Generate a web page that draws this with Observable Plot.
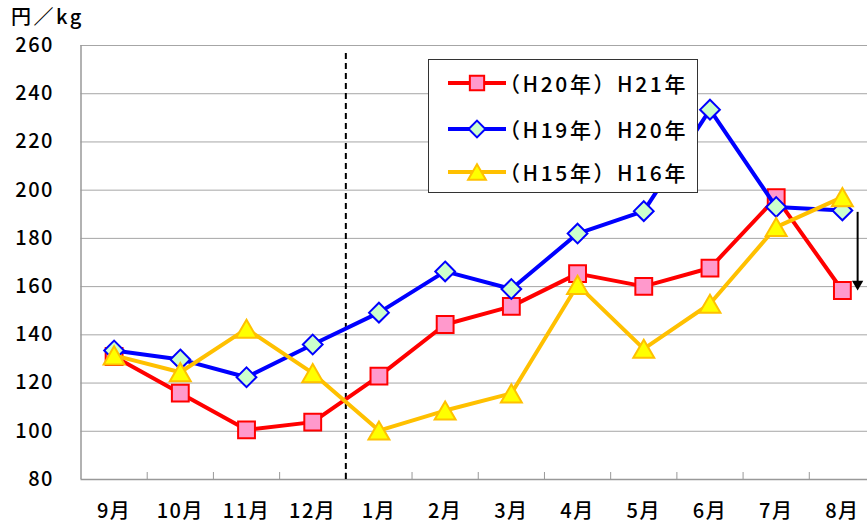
<!DOCTYPE html>
<html>
<head>
<meta charset="utf-8">
<script src="https://cdn.jsdelivr.net/npm/d3@7"></script>
<script src="https://cdn.jsdelivr.net/npm/@observablehq/plot@0.6"></script>
<style>
  html, body { margin: 0; padding: 0; background: #fff; }
  #wrap { position: relative; width: 867px; height: 528px; overflow: hidden;
          font-family: "Noto Sans CJK JP", "Noto Sans", sans-serif; }
  #wrap svg text { letter-spacing: 1.5px; font-weight: 500; }
  #unit { position: absolute; left: 11px; top: 1px; font-size: 20px; color: #000; letter-spacing: 2.5px; font-weight: 500; }
  #legend { position: absolute; left: 428px; top: 59px; width: 268px; height: 132px;
            border: 1px solid #333; background: #fff; }
  .row { position: absolute; left: 0; height: 30px; display: flex; align-items: center; white-space: nowrap; }
  .row svg { display: block; }
  .row span { font-size: 21px; letter-spacing: 2.6px; margin-left: -8px; color: #000; font-weight: 500; }
</style>
</head>
<body>
<div id="wrap">
  <div id="chart"></div>
  <div id="unit">円／kg</div>
  <div id="legend"></div>
</div>
<script>
const months = ["9月","10月","11月","12月","1月","2月","3月","4月","5月","6月","7月","8月"];
const seriesNames = ["（H20年）H21年", "（H19年）H20年", "（H15年）H16年"];
const h21 = [131, 115.8, 100.6, 103.8, 122.9, 144.3, 151.8, 165.4, 160.1, 167.7, 196.9, 158.4];
const h20 = [133.5, 129.8, 122.4, 136, 149.2, 166.3, 159, 182, 191.3, 233.4, 193, 191.6];
const h16 = [131.5, 124.5, 142.5, 124.1, 100.3, 108.6, 115.7, 160.7, 134.2, 152.9, 184.7, 197.1];
const yTicks = [80, 100, 120, 140, 160, 180, 200, 220, 240, 260];
const gridTicks = [100, 120, 140, 160, 180, 200, 220, 240, 260];
const boundaries = d3.range(0.5, 11, 1);
const dividerX = [3.5];
const arrowData = [{x: 11.23, y1: 190.8, y2: 158.4}];

const styles = [
  {stroke: "#ff0000", fill: "#ff99cc", symbol: "square", r: 9.5},
  {stroke: "#0000ff", fill: "#ccffcc", symbol: "diamond2", r: 8.9},
  {stroke: "#ffc000", fill: "#ffff00", symbol: "triangle2", r: 10, dy: 3}
];
const allSeries = [h21, h20, h16];
const tables = allSeries.map(vals => vals.map((v, i) => ({i, v})));

const marks = [
  Plot.ruleY(gridTicks, {stroke: "#a6a6a6", strokeWidth: 1}),
  Plot.ruleX([-0.5], {y1: 80, y2: 260, stroke: "#999", strokeWidth: 1.5}),
  Plot.ruleY([80], {stroke: "#999", strokeWidth: 1.5}),
  Plot.ruleX(boundaries, {y1: 80, y2: 82.9, stroke: "#999", strokeWidth: 1}),
  Plot.axisX(d3.range(12), {tickSize: 0, tickPadding: 24, tickFormat: i => months[i], fontSize: 20, fill: "#000"}),
  Plot.axisY(yTicks, {tickSize: 0, tickPadding: 27, fontSize: 20, fill: "#000"}),
  Plot.ruleX(dividerX, {y1: 80, y2: 258, stroke: "#000", strokeWidth: 2, strokeDasharray: "6,4"})
];
tables.forEach((t, k) => {
  const s = styles[k];
  marks.push(Plot.line(t, {x: "i", y: "v", stroke: s.stroke, strokeWidth: 4, strokeLinejoin: "round"}));
  marks.push(Plot.dot(t, {x: "i", y: "v", symbol: s.symbol, r: s.r, fill: s.fill, stroke: s.stroke, strokeWidth: 2, dy: s.dy || 0}));
});
marks.push(Plot.ruleX(arrowData, {x: "x", y1: "y1", y2: "y2", stroke: "#000", strokeWidth: 2, insetBottom: 6}));
marks.push(Plot.dot(arrowData, {x: "x", y: "y2", symbol: "triangle", rotate: 180, r: 4.2, fill: "#000", stroke: "none", dy: -6.5}));

const chart = Plot.plot({
  width: 867,
  height: 528,
  marginLeft: 80.5,
  marginTop: 45,
  marginBottom: 49,
  marginRight: 0,
  x: {type: "linear", domain: [-0.5, 11.5], range: [80.5, 875], axis: null},
  y: {domain: [80, 260], axis: null},
  style: {fontFamily: "'Noto Sans CJK JP', 'Noto Sans', sans-serif", background: "#fff", overflow: "hidden"},
  marks
});
document.getElementById("chart").appendChild(chart);

// legend
const legend = document.getElementById("legend");
const rowTops = [8, 54, 97];
const legendSymbols = [d3.symbolSquare, d3.symbolDiamond2, d3.symbolTriangle2];
seriesNames.forEach((name, k) => {
  const s = styles[k];
  const row = document.createElement("div");
  row.className = "row";
  row.style.top = rowTops[k] + "px";
  row.style.left = "18px";
  const sym = d3.symbol(legendSymbols[k], (s.r * 0.85) ** 2 * Math.PI)();
  row.innerHTML = `<svg width="60" height="30"><line x1="1" x2="59" y1="15" y2="15" stroke="${s.stroke}" stroke-width="4"/>` +
    `<path d="${sym}" transform="translate(30,${15 + (s.dy ? 2.6 : 0)})" fill="${s.fill}" stroke="${s.stroke}" stroke-width="2"/></svg>` +
    `<span>${name}</span>`;
  legend.appendChild(row);
});
</script>
</body>
</html>
